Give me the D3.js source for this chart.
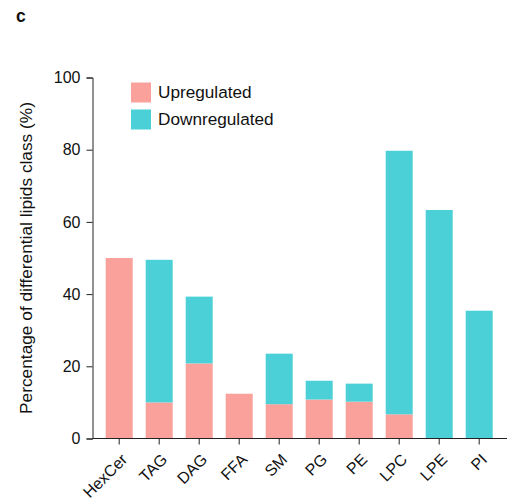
<!DOCTYPE html>
<html><head><meta charset="utf-8">
<script src="https://cdn.jsdelivr.net/npm/d3@7"></script>
<style>body{margin:0;background:#fff}svg{display:block}text{font-family:"Liberation Sans",Arial,sans-serif;fill:#111}</style>
</head><body>
<svg id="c" width="509" height="504"></svg>
<script>
const categories = ["HexCer","TAG","DAG","FFA","SM","PG","PE","LPC","LPE","PI"];
const upregulated = [50, 10, 20.8, 12.4, 9.5, 10.8, 10.2, 6.7, 0, 0];
const downregulated = [0, 39.5, 18.5, 0, 14, 5.2, 5, 73, 63.3, 35.4];
const yTicks = [0, 20, 40, 60, 80, 100];
const seriesNames = ["Upregulated", "Downregulated"];
const colors = ["#f9a19a", "#4bd0d8"];

const svg = d3.select("#c");
const y = d3.scaleLinear().domain([0, 100]).range([438.5, 77.5]);
const x = d3.scaleBand().domain(categories).range([99.2, 499.2]).paddingInner(0.325).paddingOuter(0.1625);

const data = categories.map((c, i) => ({cat: c, Upregulated: upregulated[i], Downregulated: downregulated[i]}));
const stack = d3.stack().keys(seriesNames)(data);

svg.append("g").selectAll("g").data(stack).join("g")
  .attr("fill", (d, i) => colors[i])
  .selectAll("rect").data(d => d).join("rect")
  .attr("x", d => x(d.data.cat))
  .attr("width", x.bandwidth())
  .attr("y", d => y(d[1]))
  .attr("height", d => y(d[0]) - y(d[1]));

// y axis
const ya = svg.append("g").attr("transform", "translate(92.5,0)")
  .call(d3.axisLeft(y).tickValues(yTicks).tickSize(6).tickPadding(6));
ya.select(".domain").attr("stroke", "#222");
ya.selectAll(".tick line").attr("stroke", "#222");
ya.selectAll(".tick text").style("font-size", "16px").attr("fill", "#111");

// x axis
const xa = svg.append("g").attr("transform", "translate(0,438.5)")
  .call(d3.axisBottom(x).tickSize(6).tickSizeOuter(0));
xa.select(".domain").remove();
xa.append("line").attr("x1", 92.5).attr("x2", 507).attr("stroke", "#222");
xa.selectAll(".tick line").attr("stroke", "#222");
xa.selectAll(".tick text").style("font-size", "16px").attr("fill", "#111")
  .attr("text-anchor", "end").attr("y", 0).attr("dy", 0)
  .attr("transform", "translate(9,22) rotate(-45)");

// y label
svg.append("text").attr("transform", "translate(32,258) rotate(-90)")
  .attr("text-anchor", "middle").style("font-size", "17.3px")
  .text("Percentage of differential lipids class (%)");

// legend
const lg = svg.append("g");
seriesNames.forEach((n, i) => {
  lg.append("rect").attr("x", 131).attr("y", 82.5 + i * 27).attr("width", 20).attr("height", 20).attr("fill", colors[i]);
  lg.append("text").attr("x", 158).attr("y", 98 + i * 27).style("font-size", "17.2px").text(n);
});

// panel letter
svg.append("text").attr("x", 16).attr("y", 22).style("font-size", "17.5px").style("font-weight", "bold").text("c");
</script>
</body></html>
